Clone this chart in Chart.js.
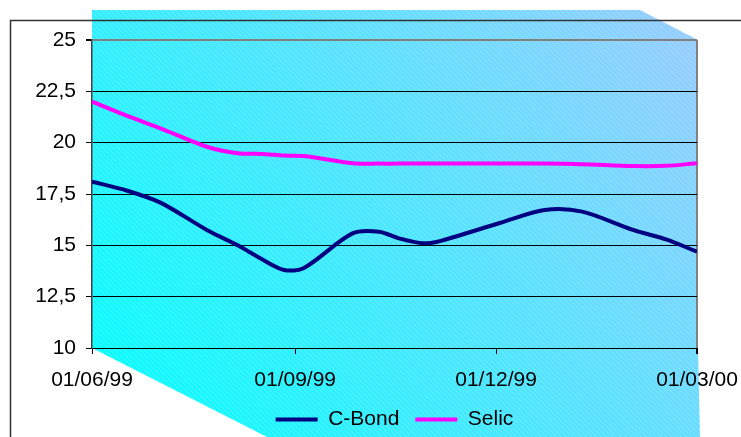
<!DOCTYPE html>
<html>
<head>
<meta charset="utf-8">
<script src="https://cdn.jsdelivr.net/npm/chart.js@4/dist/chart.umd.min.js"></script>
<style>
  html, body { margin: 0; padding: 0; background: #fff; }
  canvas { display: block; }
</style>
</head>
<body>
<canvas id="chart" width="741" height="437"></canvas>
<script>
// --- DATA ---
// days counted from 01/06/99
const days = [0, 16, 31, 52, 66, 77, 87, 96, 118, 130, 139, 150, 158, 185, 205, 222, 245, 260, 274];
const cBond = [18.1, 17.66, 17.08, 15.75, 15.0, 14.32, 13.8, 13.9, 15.58, 15.66, 15.34, 15.1, 15.22, 16.1, 16.72, 16.64, 15.75, 15.29, 14.69];
const selic = [22.0, 21.3, 20.7, 19.8, 19.48, 19.45, 19.37, 19.35, 19.0, 18.98, 18.98, 18.98, 18.98, 18.98, 18.98, 18.95, 18.86, 18.87, 19.0];
const tickDays = [0, 92, 183, 274];
const tickLabels = ['01/06/99', '01/09/99', '01/12/99', '01/03/00'];
// --- END DATA ---

const FONT = { family: '"Liberation Sans", Arial, sans-serif', size: 21 };

// hatched gradient wall + floor, and the outer frame lines
const backdrop = {
    id: 'backdrop',
    beforeDraw(chart) {
        const ctx = chart.ctx;
        const a = chart.chartArea;
        ctx.save();
        ctx.fillStyle = '#fff';
        ctx.fillRect(0, 0, chart.width, chart.height);

        ctx.beginPath();
        ctx.moveTo(a.left, a.top - 30);
        ctx.lineTo(a.right - 57, a.top - 30);
        ctx.lineTo(a.right + 1, a.top);
        ctx.lineTo(a.right + 1, a.bottom);
        ctx.lineTo(a.right + 3, chart.height);
        ctx.lineTo(a.left + 175, chart.height);
        ctx.lineTo(a.left, a.bottom);
        ctx.closePath();

        const g = ctx.createLinearGradient(a.left, chart.height, a.right, a.top - 30);
        g.addColorStop(0, '#00ffff');
        g.addColorStop(1, '#99ccff');
        ctx.fillStyle = g;
        ctx.fill();

        // fine diagonal hatching
        const p = document.createElement('canvas');
        p.width = 5; p.height = 5;
        const pc = p.getContext('2d');
        pc.strokeStyle = 'rgba(255,255,255,0.22)';
        pc.lineWidth = 1;
        pc.beginPath();
        pc.moveTo(-1, -1); pc.lineTo(6, 6);
        pc.stroke();
        ctx.fillStyle = ctx.createPattern(p, 'repeat');
        ctx.fill();

        // frame
        ctx.strokeStyle = '#333';
        ctx.lineWidth = 1.5;
        ctx.beginPath();
        ctx.moveTo(10.5, chart.height);
        ctx.lineTo(10.5, 20.5);
        ctx.lineTo(chart.width, 20.5);
        ctx.stroke();
        ctx.restore();
    }
};

new Chart(document.getElementById('chart'), {
    type: 'line',
    data: {
        datasets: [{
            label: 'C-Bond',
            data: days.map((d, i) => ({ x: d, y: cBond[i] })),
            borderColor: '#000080',
            backgroundColor: '#000080',
            borderWidth: 4,
            pointRadius: 0,
            tension: 0.3
        }, {
            label: 'Selic',
            data: days.map((d, i) => ({ x: d, y: selic[i] })),
            borderColor: '#ff00ff',
            backgroundColor: '#ff00ff',
            borderWidth: 4,
            pointRadius: 0,
            tension: 0.3
        }]
    },
    options: {
        responsive: false,
        devicePixelRatio: 1,
        animation: false,
        layout: { padding: { top: 40, right: 44, bottom: -3, left: 0 } },
        scales: {
            x: {
                type: 'linear',
                min: 0,
                max: 274,
                afterBuildTicks: scale => { scale.ticks = tickDays.map(v => ({ value: v })); },
                afterFit: scale => {
                    scale.height = 45;
                    scale.paddingLeft = 0;
                    scale.paddingRight = 0;
                },
                ticks: {
                    autoSkip: false,
                    maxRotation: 0,
                    padding: 14,
                    color: '#000',
                    font: FONT,
                    callback: (v, i) => tickLabels[i]
                },
                grid: {
                    drawOnChartArea: true,
                    color: c => c.index === tickDays.length - 1 ? '#808080' : 'rgba(0,0,0,0)',
                    lineWidth: c => c.index === tickDays.length - 1 ? 2 : 1,
                    tickColor: '#000',
                    tickLength: 6
                },
                border: { color: '#000', width: 1 }
            },
            y: {
                min: 10,
                max: 25,
                afterFit: scale => {
                    scale.width = 92;
                    scale.paddingTop = 0;
                    scale.paddingBottom = 0;
                },
                ticks: {
                    stepSize: 2.5,
                    padding: 10,
                    color: '#000',
                    font: FONT,
                    callback: v => String(v).replace('.', ',')
                },
                grid: {
                    color: c => c.tick && c.tick.value === 25 ? '#808080' : '#000',
                    lineWidth: c => c.tick && c.tick.value === 25 ? 2 : 1,
                    tickColor: '#000',
                    tickLength: 6
                },
                border: { color: '#404040', width: 1.5 }
            }
        },
        plugins: {
            legend: {
                position: 'bottom',
                fullSize: false,
                labels: {
                    boxWidth: 42,
                    boxHeight: 4,
                    padding: 16,
                    color: '#000',
                    font: FONT,
                    generateLabels: chart => Chart.defaults.plugins.legend.labels.generateLabels(chart)
                        .map(item => Object.assign(item, { lineWidth: 0 }))
                }
            },
            tooltip: { enabled: false }
        }
    },
    plugins: [backdrop]
});
</script>
</body>
</html>
